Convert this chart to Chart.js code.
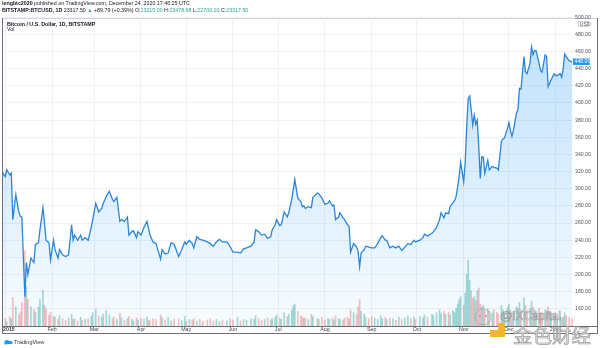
<!DOCTYPE html>
<html>
<head>
<meta charset="utf-8">
<script src="https://cdn.jsdelivr.net/npm/chart.js@4.4.1/dist/chart.umd.min.js"></script>
<style>
  html, body { margin: 0; padding: 0; background: #fff; }
  #wrap { width: 600px; height: 348px; }
</style>
</head>
<body>
<div id="wrap"><canvas id="btcChart" width="600" height="348"></canvas></div>
<script>
// días desde el 1 de enero de 2015
const days = [
  -2, 0, 1, 3, 4, 5, 7, 9, 10, 11, 13, 14, 15, 17, 19, 20, 22, 23, 25, 26, 27, 29, 30, 32,
  33, 35, 36, 38, 40, 42, 44, 45, 46, 48, 50, 51, 53, 55, 57,
  58, 60, 62, 64, 65, 67, 69, 71, 72, 74, 76, 77, 79, 81, 82, 84, 85, 87, 88, 90,
  92, 94, 95, 96, 98, 100, 103, 104, 106, 108, 110, 112, 115, 117, 119, 120, 122, 124, 125,
  127, 129, 131, 134, 136, 138, 140, 142, 144, 147, 149, 151, 154, 156, 158, 160, 163, 165,
  166, 168, 170, 172, 174, 176, 177, 179, 180, 182, 183, 185, 187, 188, 190, 191, 192, 194, 196, 197,
  198, 199, 201, 203, 204, 207, 208, 210, 212, 214, 215, 217, 218,
  219, 221, 222, 224, 225, 227, 228, 229, 231, 233, 234, 235, 236, 238, 239, 241, 243, 245, 247, 249,
  250, 252, 253, 255,
  257, 259, 261, 263, 265, 267, 269, 271, 272, 275, 277, 278, 280, 283, 284, 286, 288, 289, 291, 292,
  294, 295, 297, 298, 299,
  300, 301, 302, 304, 305, 306, 307, 308, 309, 310, 311, 312, 313, 314, 315, 316, 317, 318, 320, 321,
  323, 324, 326, 327,
  329, 330, 331, 333, 334, 335, 336, 337, 339, 340, 341, 342, 344, 345, 346, 348, 349, 350, 351, 352,
  354, 355, 356, 358, 359, 360, 361, 362, 364, 365, 366, 368, 369, 370, 371, 372, 374, 376
];

const prices = [
  319, 314, 322, 316, 318, 264, 293, 273, 268, 267, 174, 214, 200, 219, 214, 235, 237, 252, 278, 260, 240, 237, 217, 240,
  229, 219, 229, 223, 221, 223, 258, 240, 246, 240, 246, 240, 243, 240, 255,
  264, 283, 273, 277, 283, 291, 297, 288, 285, 290, 262, 264, 262, 267, 246, 250, 251, 243, 250, 246,
  255, 262, 254, 246, 238, 236, 218, 229, 224, 225, 237, 235, 221, 229, 238, 235, 240, 236, 231,
  244, 241, 240, 238, 236, 233, 238, 241, 238, 238, 233, 226, 226, 225, 230, 231, 233, 238,
  252, 250, 246, 247, 242, 244, 252, 258, 264, 257, 258, 273, 267, 272, 288, 299, 311, 289, 285, 279,
  280, 277, 279, 278, 290, 295, 294, 289, 282, 283, 286, 280, 281,
  264, 267, 272, 266, 264, 258, 256, 226, 236, 232, 227, 209, 225, 229, 233, 232, 231, 231, 236, 243,
  245, 240, 240, 231,
  233, 231, 233, 228, 232, 236, 235, 240, 238, 240, 243, 247, 245, 248, 250, 255, 264, 272, 266, 272,
  271, 279, 284, 286, 291,
  302, 314, 331, 308, 330, 372, 405, 408, 392, 374, 386, 375, 380, 349, 312, 337, 337, 318, 333, 322,
  326, 325, 324, 322,
  355, 358, 359, 370, 377, 368, 361, 368, 388, 392, 417, 416, 454, 436, 434, 446, 465, 456, 461, 461,
  446, 438, 436, 456, 454, 419, 423, 427, 434, 432, 432, 434, 430, 440, 457, 454, 449, 448
];

// volumen (miles de BTC)
const volumes = [
  8, 10, 6, 13, 10, 39, 26, 15, 19, 32, 103, 54, 36, 26, 23, 19, 26, 36, 49, 28, 23, 15, 19, 13,
  12, 9, 14, 10, 8, 11, 16, 9, 10, 7, 12, 8, 9, 10, 13,
  18, 23, 14, 12, 16, 21, 15, 10, 12, 9, 17, 11, 8, 10, 13, 9, 7, 11, 8, 10,
  9, 12, 8, 7, 10, 9, 15, 11, 8, 12, 7, 9, 10, 8, 13, 6, 9, 8, 10,
  7, 9, 6, 8, 10, 7, 9, 6, 8, 7, 10, 8, 12, 7, 9, 8, 10, 9,
  14, 10, 8, 9, 11, 8, 10, 12, 15, 11, 9, 18, 13, 16, 22, 28, 30, 20, 14, 12,
  10, 11, 9, 16, 13, 10, 9, 12, 8, 10, 9, 11, 8,
  14, 10, 9, 8, 11, 12, 9, 22, 18, 15, 26, 36, 20, 16, 12, 10, 13, 11, 9, 14,
  10, 12, 9, 11,
  10, 8, 12, 9, 11, 14, 10, 12, 9, 13, 11, 15, 12, 16, 14, 18, 22, 17, 20, 16,
  19, 15, 21, 18, 24,
  30, 36, 40, 28, 45, 70, 90, 62, 48, 38, 40, 35, 48, 52, 30, 26, 28, 22, 24, 20,
  18, 22, 19, 16,
  28, 22, 18, 25, 30, 22, 18, 20, 26, 24, 32, 22, 38, 28, 20, 24, 34, 26, 22, 20,
  24, 18, 16, 22, 18, 26, 20, 16, 14, 12, 10, 13, 11, 12, 18, 14, 12, 10
];

const monthDays = [0, 31, 59, 90, 120, 151, 181, 212, 243, 273, 304, 334, 365];
const monthLabels = ['2015', 'Feb', 'Mar', 'Apr', 'May', 'Jun', 'Jul', 'Aug', 'Sep', 'Oct', 'Nov', 'Dec', '2016'];
const priceTicks = [160, 180, 200, 220, 240, 260, 280, 300, 320, 340, 360, 380, 400, 420, 440, 460, 480, 500];

const FONT = '"Liberation Sans", Arial, sans-serif';
const COLORS = {
    line: '#2a86d6',
    up: 'rgba(38,166,154,0.42)',
    down: 'rgba(239,83,80,0.38)',
    grid: '#eef1f6',
    text: '#50535e',
    teal: '#26a69a',
    frame: '#6b6e76',
};

const volColors = volumes.map((v, i) => (i > 0 && prices[i] < prices[i - 1]) ? COLORS.down : COLORS.up);

// textos y marco al estilo TradingView
const decor = {
    id: 'decor',
    beforeDraw(chart) {
        const c = chart.ctx;
        c.save();
        c.fillStyle = '#fff';
        c.fillRect(0, 0, chart.width, chart.height);
        c.restore();
    },
    afterDraw(chart) {
        const c = chart.ctx;
        const xs = chart.scales.x, ys = chart.scales.y;
        c.save();
        c.textBaseline = 'middle';

        // cabecera
        let x = 2;
        const seg = (txt, color, bold, y) => {
            c.font = (bold ? 'bold ' : '') + '5.3px ' + FONT;
            c.fillStyle = color;
            c.fillText(txt, x, y);
            x += c.measureText(txt).width;
        };
        seg('lengbtc2020', '#131722', true, 4);
        seg(' published on TradingView.com, December 24, 2020 17:46:25 UTC', '#131722', false, 4);
        x = 2;
        seg('BITSTAMP:BTCUSD, 1D', '#131722', true, 10.5);
        seg(' 23317.50 ', '#131722', false, 10.5);
        seg('\u25B2', COLORS.teal, false, 10.5);
        seg(' +89.79 (+0.39%) O:', '#131722', false, 10.5);
        seg('23215.00', COLORS.teal, false, 10.5);
        seg(' H:', '#131722', false, 10.5);
        seg('23478.68', COLORS.teal, false, 10.5);
        seg(' L:', '#131722', false, 10.5);
        seg('22700.10', COLORS.teal, false, 10.5);
        seg(' C:', '#131722', false, 10.5);
        seg('23317.50', COLORS.teal, false, 10.5);

        // marco
        c.lineWidth = 1;
        c.strokeStyle = '#d4d6db';
        c.beginPath(); c.moveTo(2, 18.5); c.lineTo(598, 18.5); c.stroke();
        c.strokeStyle = COLORS.frame;
        c.beginPath();
        c.moveTo(2.5, 18); c.lineTo(2.5, 333.5); c.lineTo(597.5, 333.5); c.lineTo(597.5, 18);
        c.stroke();
        c.beginPath(); c.moveTo(2, 326.5); c.lineTo(598, 326.5); c.stroke();

        x = 7;
        seg('Bitcoin / U.S. Dollar, 1D, BITSTAMP', '#131722', true, 24.5);
        x = 7;
        seg('Vol', '#131722', false, 30);

        // eje de precios
        c.font = '5.2px ' + FONT;
        c.fillStyle = COLORS.text;
        c.textAlign = 'left';
        priceTicks.forEach(v => {
            c.fillText(v.toFixed(2), 575, ys.getPixelForValue(v));
        });
        c.strokeStyle = '#b2b5be';
        c.lineWidth = 0.6;
        c.strokeRect(578.5, 21.5, 10, 5);
        c.fillText('USD', 579.8, 24.2);

        const last = prices[prices.length - 1];
        const ly = ys.getPixelForValue(last);
        c.fillStyle = '#2196f3';
        c.fillRect(573, ly - 3.2, 17, 6.4);
        c.fillStyle = '#fff';
        c.fillText(last.toFixed(2), 574.5, ly + 0.2);

        // eje de tiempo
        c.fillStyle = '#3c3f48';
        monthDays.forEach((d, i) => {
            const px = xs.getPixelForValue(d);
            if (i === 0) {
                c.font = 'bold 5.3px ' + FONT;
                c.textAlign = 'left';
                c.fillText(monthLabels[i], 3, 330);
            } else {
                c.font = '5.3px ' + FONT;
                c.textAlign = 'center';
                c.fillText(monthLabels[i], px, 330);
            }
        });

        // logo TradingView
        c.textAlign = 'left';
        c.fillStyle = '#2196f3';
        c.beginPath();
        c.arc(7, 342.5, 2.6, Math.PI, 0);
        c.arc(10.5, 343, 2.2, Math.PI * 1.2, 0.4);
        c.lineTo(4.4, 344.6);
        c.closePath();
        c.fill();
        c.font = '5.5px ' + FONT;
        c.fillStyle = '#30333b';
        c.fillText('TradingView', 14, 342.8);

        // marca de agua
        c.strokeStyle = 'rgba(150,150,150,0.8)';
        c.lineWidth = 0.7;
        c.beginPath(); c.arc(483, 317, 8, 0, Math.PI * 2); c.stroke();
        c.fillStyle = 'rgba(140,140,140,0.8)';
        c.beginPath(); c.arc(480, 316, 0.9, 0, Math.PI * 2); c.fill();
        c.beginPath(); c.arc(486, 316, 0.9, 0, Math.PI * 2); c.fill();
        c.font = '12px ' + FONT;
        c.fillStyle = 'rgba(255,255,255,0.7)';
        c.strokeStyle = 'rgba(120,120,120,0.75)';
        c.lineWidth = 0.6;
        c.fillText('@IXCapital', 500, 317);
        c.strokeText('@IXCapital', 500, 317);
        c.fillStyle = '#f2b42a';
        c.fillRect(498, 323, 7, 7);
        c.fillRect(490, 330, 15, 7);
        c.fillStyle = '#e3e3e3';
        c.strokeStyle = '#9a9a9a';
        c.lineWidth = 0.7;
        c.font = '19.5px "Noto Sans CJK SC", sans-serif';
        c.fillText('金色财经', 513, 335.5);
        c.strokeText('金色财经', 513, 335.5);
        c.restore();
    }
};

const ctx = document.getElementById('btcChart');
new Chart(ctx, {
    type: 'line',
    data: {
        datasets: [
            {
                type: 'line',
                label: 'BTCUSD',
                data: days.map((d, i) => ({ x: d, y: prices[i] })),
                yAxisID: 'y',
                borderColor: COLORS.line,
                borderWidth: 1.3,
                pointRadius: 0,
                tension: 0,
                fill: 'start',
                backgroundColor: (context) => {
                    const area = context.chart.chartArea;
                    if (!area) return 'rgba(33,150,243,0.1)';
                    const g = context.chart.ctx.createLinearGradient(0, area.top, 0, area.bottom);
                    g.addColorStop(0, 'rgba(33,150,243,0.30)');
                    g.addColorStop(1, 'rgba(33,150,243,0.03)');
                    return g;
                },
                order: 1,
            },
            {
                type: 'bar',
                label: 'Vol',
                data: days.map((d, i) => ({ x: d, y: volumes[i] })),
                yAxisID: 'yv',
                backgroundColor: volColors,
                barThickness: 1,
                grouped: false,
                order: 2,
            }
        ]
    },
    options: {
        responsive: false,
        devicePixelRatio: 1,
        animation: false,
        layout: { padding: { left: 3, right: 27, top: 18, bottom: 22 } },
        plugins: { legend: { display: false }, tooltip: { enabled: false } },
        scales: {
            x: {
                type: 'linear',
                min: -1.5,
                max: 376.5,
                offset: false,
                afterBuildTicks: s => { s.ticks = monthDays.map(v => ({ value: v })); },
                ticks: { display: false },
                grid: { color: COLORS.grid, drawTicks: false, offset: false },
                border: { display: false },
            },
            y: {
                position: 'right',
                min: 140,
                max: 499,
                afterBuildTicks: s => { s.ticks = priceTicks.map(v => ({ value: v })); },
                ticks: { display: false },
                grid: { color: COLORS.grid, drawTicks: false },
                border: { display: false },
            },
            yv: {
                display: false,
                min: 0,
                max: 420,
            }
        }
    },
    plugins: [decor]
});
</script>
</body>
</html>
